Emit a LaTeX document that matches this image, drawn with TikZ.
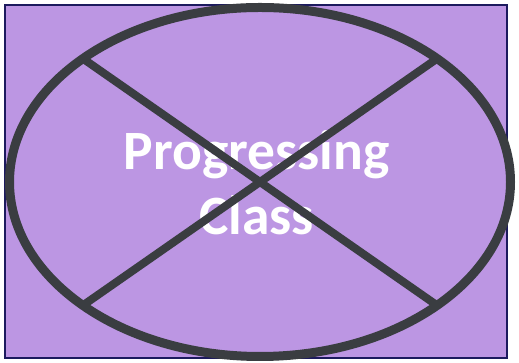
\documentclass[tikz,border=0pt]{standalone}
\usepackage{fontspec}
\setmainfont{Carlito}
\usepackage{xcolor}
\usetikzlibrary{positioning, calc}
\definecolor{lilac}{HTML}{BC96E3}
\definecolor{ringgray}{HTML}{3A3D41}
\definecolor{framenavy}{HTML}{1C1A5E}
\tikzset{
  panel/.style={draw=framenavy, line width=1.2pt, fill=lilac},
  ring/.style={draw=ringgray, line width=9pt},
  cross/.style={draw=ringgray, line width=8pt},
  label/.style={text=white, font=\fontsize{55.5}{65}\selectfont\bfseries, align=center, inner sep=0pt},
}
\begin{document}
\begin{tikzpicture}[x=1pt, y=1pt]
\useasboundingbox (0,0) rectangle (519,363);
\draw[panel] (5,5) rectangle (507,358);
\coordinate (c) at (260,181);
\coordinate (nw) at ($(c)+(-177.1,123.4)$);
\coordinate (ne) at ($(c)+(177.1,123.4)$);
\coordinate (sw) at ($(c)+(-177.1,-123.4)$);
\coordinate (se) at ($(c)+(177.1,-123.4)$);
\node[label] (title) at (256.5,180) {Progressing\\Class};
\draw[ring] (c) ellipse [x radius=250.5, y radius=174.5];
\draw[cross] (nw) -- (se);
\draw[cross] (ne) -- (sw);
\end{tikzpicture}
\end{document}
